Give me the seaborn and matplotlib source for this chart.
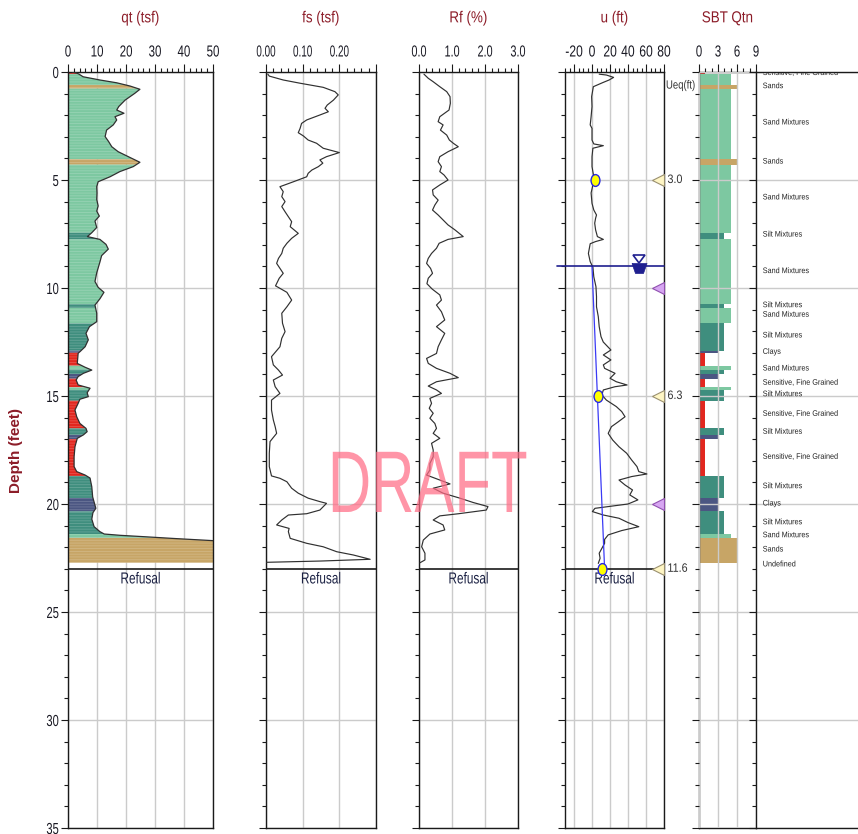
import numpy as np
import matplotlib
matplotlib.use("Agg")
import matplotlib.pyplot as plt
import seaborn as sns
from matplotlib.patheffects import AbstractPathEffect
from matplotlib.transforms import Affine2D, blended_transform_factory
from matplotlib.ticker import MultipleLocator, FixedLocator, FixedFormatter
from matplotlib.markers import MarkerStyle
from matplotlib.path import Path

# ---------------- CPT sounding data (depth in feet) ----------------
qt_depth = np.array([0.0, 0.05, 0.1, 0.22, 0.37, 0.5, 0.65, 0.8, 0.99, 1.3, 1.6, 1.76, 1.91, 2.07,
                     2.22, 2.45, 2.69, 2.99, 3.22, 3.46, 3.69, 3.92, 4.18, 4.38, 4.61, 4.85, 5.08,
                     5.31, 5.6, 5.9, 6.2, 6.44, 6.67, 6.9, 7.2, 7.44, 7.62, 7.75, 7.98, 8.2, 8.5,
                     8.8, 9.3, 9.7, 9.97, 10.2, 10.5, 10.79, 11.17, 11.56, 11.79, 12.1, 12.4, 12.72,
                     12.95, 13.02, 13.49, 13.67, 13.8, 13.95, 14.1, 14.26, 14.49, 14.64, 14.85,
                     15.03, 15.15, 15.34, 15.65, 15.96, 16.27, 16.5, 16.65, 16.8, 16.96, 17.35,
                     17.81, 18.27, 18.5, 18.66, 18.8, 19.2, 19.67, 20.2, 20.4, 20.7, 21.05, 21.28,
                     21.39, 21.45, 21.52, 21.6, 21.7, 21.85, 22.1, 22.4, 22.72])
qt_tsf = np.array([1.5, 3.0, 3.8, 5.2, 11.0, 16.8, 21.4, 24.8, 23.0, 19.7, 17.5, 16.8, 19.3, 16.2,
                   16.8, 15.6, 13.3, 12.8, 14.0, 15.1, 17.3, 20.8, 24.8, 22.5, 17.9, 14.5, 10.4,
                   9.9, 10.0, 9.9, 10.4, 9.9, 10.8, 9.3, 9.9, 8.2, 6.7, 11.0, 13.1, 13.9, 11.6,
                   11.0, 9.9, 9.3, 10.4, 12.4, 11.0, 9.3, 9.9, 9.9, 7.4, 6.2, 7.0, 5.9,
                   4.1, 3.5, 3.2, 5.9, 8.2, 5.3, 3.5, 2.8, 3.5, 7.6, 6.6,
                   7.0, 4.1, 3.5, 2.4, 3.0, 4.1, 6.2, 6.6, 5.3, 3.2, 2.4,
                   2.1, 2.1, 3.0, 5.9, 7.6, 8.2, 8.5, 9.6, 8.6, 8.2, 9.0, 11.0,
                   12.5, 18.0, 27.0, 37.0, 50.5, 62.0, 74.0, 80.0, 78.0])

fs_depth = np.array([0.1, 0.19, 0.37, 0.52, 0.71, 0.91, 1.06, 1.3, 1.53, 1.68, 1.84, 1.99, 2.22,
                     2.38, 2.61, 2.81, 2.96, 3.15, 3.3, 3.53, 3.73, 3.92, 4.07, 4.22, 4.38, 4.54,
                     4.69, 4.85, 5.08, 5.31, 5.54, 5.77, 6.0, 6.23, 6.47, 6.7, 6.93, 7.16, 7.47,
                     7.7, 7.93, 8.16, 8.4, 8.63, 8.86, 9.09, 9.32, 9.55, 9.9, 10.2, 10.56, 10.87,
                     11.17, 11.63, 12.02, 12.33, 12.72, 13.18, 13.56, 13.8, 14.03, 14.26, 14.57,
                     14.88, 15.19, 15.65, 16.11, 16.42, 16.73, 16.96, 17.11, 17.65, 18.27, 18.7,
                     18.81, 18.97, 19.27, 19.5, 19.73, 19.89, 19.97, 20.28, 20.45, 20.51, 20.74,
                     20.97, 21.13, 21.28, 21.59, 21.82, 21.98, 22.21, 22.36, 22.56, 22.64, 22.7])
fs_tsf = np.array([0.005, 0.009, 0.047, 0.093, 0.156, 0.188, 0.197, 0.184, 0.167, 0.161, 0.17,
                   0.147, 0.111, 0.097, 0.093, 0.088, 0.102, 0.115, 0.138, 0.156, 0.2, 0.165,
                   0.147, 0.155, 0.143, 0.125, 0.115, 0.111, 0.075, 0.038, 0.047, 0.043, 0.052,
                   0.043, 0.052, 0.061, 0.07, 0.066, 0.088, 0.07, 0.057, 0.047, 0.043, 0.034,
                   0.029, 0.038, 0.047, 0.036, 0.026, 0.057, 0.07, 0.057, 0.043, 0.045, 0.052,
                   0.043, 0.038, 0.015, 0.02, 0.034, 0.045, 0.02, 0.025, 0.038, 0.015, 0.015,
                   0.02, 0.025, 0.029, 0.018, 0.011, 0.009, 0.009, 0.015, 0.038, 0.057, 0.07,
                   0.088, 0.115, 0.147, 0.165, 0.147, 0.111, 0.061, 0.043, 0.029, 0.063, 0.061,
                   0.066, 0.111, 0.156, 0.193, 0.238, 0.284, 0.15, 0.0])

rf_depth = np.array([0.1, 0.29, 0.45, 0.68, 0.91, 1.14, 1.45, 1.76, 2.07, 2.3, 2.45, 2.69, 2.92,
                     3.15, 3.3, 3.46, 3.69, 3.92, 4.15, 4.38, 4.61, 4.77, 5.0, 5.23, 5.46, 5.69,
                     5.93, 6.16, 6.39, 6.62, 6.85, 7.08, 7.31, 7.62, 7.75, 7.93, 8.16, 8.4, 8.63,
                     8.86, 9.09, 9.32, 9.55, 9.8, 10.05, 10.32, 10.56, 10.79, 11.1, 11.48, 11.79,
                     12.1, 12.4, 12.72, 13.03, 13.26, 13.49, 13.72, 13.95, 14.15, 14.34, 14.54,
                     14.72, 14.88, 15.11, 15.34, 15.57, 15.8, 16.03, 16.27, 16.5, 16.73, 16.96,
                     17.19, 17.5, 17.81, 18.12, 18.43, 18.66, 18.89, 19.07, 19.27, 19.5, 19.73,
                     19.93, 20.12, 20.28, 20.45, 20.55, 20.74, 20.97, 21.2, 21.39, 21.67, 21.98,
                     22.28, 22.59, 22.72])
rf_pct = np.array([0.15, 0.28, 0.43, 0.63, 0.84, 0.94, 0.95, 0.91, 0.63, 0.58, 0.73, 0.65, 0.84,
                   0.92, 1.04, 1.19, 0.88, 0.63, 0.58, 0.68, 0.63, 0.76, 0.88, 0.63, 0.41, 0.43,
                   0.58, 0.48, 0.41, 0.58, 0.73, 0.88, 1.09, 1.34, 0.88, 0.61, 0.53, 0.38, 0.28,
                   0.23, 0.35, 0.41, 0.28, 0.24, 0.4, 0.63, 0.68, 0.53, 0.68, 0.78, 0.53,
                   0.78, 0.68, 0.58, 0.53, 0.23, 0.28, 0.53, 0.94, 1.19, 0.53, 0.28,
                   0.53, 0.68, 0.33, 0.38, 0.31, 0.43, 0.33, 0.48, 0.53, 0.43, 0.63,
                   0.38, 0.43, 0.43, 0.33, 0.33, 0.23, 0.63, 0.94, 0.43, 0.73, 1.24,
                   1.64, 2.09, 2.04, 1.2, 0.63, 0.43, 0.73, 0.78, 0.33, 0.13, 0.08,
                   0.18, 0.18, 0.03])

u_depth = np.array([0.1, 0.14, 0.25, 0.37, 0.49, 0.68, 1.14, 1.6, 2.07, 2.45, 2.61, 3.15, 3.33,
                    3.41, 3.53, 3.92, 4.38, 4.85, 5.08, 5.23, 5.6, 6.08, 6.39, 6.62, 6.77, 7.0,
                    7.31, 7.62, 7.75, 7.85, 7.95, 8.4, 8.78, 9.04, 9.48, 9.94, 10.4, 10.87, 11.33,
                    11.79, 12.25, 12.5, 12.87, 13.1, 13.33, 13.56, 13.72, 13.95, 14.18, 14.34,
                    14.49, 14.57, 14.72, 14.95, 15.19, 15.49, 15.72, 15.96, 16.2, 16.42, 16.73,
                    17.04, 17.35, 17.65, 17.96, 18.27, 18.5, 18.61, 18.73, 18.89, 19.12, 19.35,
                    19.58, 19.81, 20.0, 20.2, 20.35, 20.51, 20.66, 20.86, 21.05, 21.23, 21.43,
                    21.64, 21.82, 22.05, 22.28, 22.51, 22.75])
u_ft = np.array([8, 16, 24, 19, 12, 1.5, -0.4, 0, -1, -2, 0, 0, 2,
                 12.6, 1, 0, 0, 2, 7, 1, -1, 0, 2, 5, 4, 3,
                 4, 6, 12.6, 4, -2, -4, -2, 1, 2, 4.4, 5, 5, 7,
                 8, 10, 12.5, 21, 12.6, 21, 12.6, 14, 25.6, 20, 27,
                 39, 25.6, 12.6, 10.9, 16, 27, 33, 36.7, 29, 21.6, 18,
                 23, 30, 38.5, 44, 50, 52, 61, 44, 30, 36.7, 45,
                 42, 51, 40, 3.3, 0.4, 12.6, 30, 40, 52, 33, 18,
                 14, 14, 11, 8, 9, 7])

# Soil behaviour type layers (Robertson zone numbers)
sbt_top = [0.0, 0.1, 0.6, 0.77, 4.04, 4.29, 7.44, 7.75, 10.75, 10.92, 11.64, 12.9, 13.0, 13.6,
           13.78, 13.98, 14.2, 14.6, 14.72, 15.22, 16.5, 16.8, 17.0, 18.7, 19.72, 20.34, 21.39, 21.57]
sbt_bottom = sbt_top[1:] + [22.72]
sbt_zone = [1, 5, 6, 5, 6, 5, 4, 5, 4, 5, 4, 3, 1, 5, 4, 3, 1, 5, 4, 1, 4, 3, 1, 4, 3, 4, 5, 6]

sbt_label_depth = [0.07, 0.68, 2.36, 4.17, 5.83, 7.55, 9.24, 10.82, 11.26, 12.22, 12.98, 13.75,
                   14.41, 14.94, 15.85, 16.68, 17.84, 19.2, 20.0, 20.87, 21.47, 22.13, 22.82]
sbt_label_name = ["Sensitive, Fine Grained", "Sands", "Sand Mixtures", "Sands", "Sand Mixtures",
                  "Silt Mixtures", "Sand Mixtures", "Silt Mixtures", "Sand Mixtures",
                  "Silt Mixtures", "Clays", "Sand Mixtures", "Sensitive, Fine Grained",
                  "Silt Mixtures", "Sensitive, Fine Grained", "Silt Mixtures",
                  "Sensitive, Fine Grained", "Silt Mixtures", "Clays", "Silt Mixtures",
                  "Sand Mixtures", "Sands", "Undefined"]

# Pore pressure dissipation tests and groundwater
diss_depth = [5.0, 15.0, 23.0]
ueq_ft = [3.0, 6.3, 11.6]
other_test_depth = [10.0, 20.0]
water_depth = 9.0
water_symbol_u = 52.5
refusal_depth = 23.0

ZONE_COLORS = {1: "#E2271F", 3: "#4B5682", 4: "#3F8E7E", 5: "#7DC8A1", 6: "#C7A566"}

# ---------------- styling helpers ----------------
sns.set_theme(style="white")
plt.rcParams["font.family"] = ["Liberation Sans", "DejaVu Sans"]
plt.rcParams["hatch.linewidth"] = 0.6

TITLE_RED = "#8C1C28"
TICK_TXT = "#1A1A24"
GRID = "#CBCBCB"
LINE = "#303030"


class Condense(AbstractPathEffect):
    """Draw glyphs narrower along the text direction (condensed lettering)."""

    def __init__(self, sx, anchor="center"):
        super().__init__()
        self.sx = sx
        self.anchor = anchor

    def draw_path(self, renderer, gc, tpath, affine, rgbFace=None):
        ext = tpath.get_extents()
        if self.anchor == "left":
            cx = 0.0
        elif self.anchor == "right":
            cx = ext.x1
        else:
            cx = 0.5 * (ext.x0 + ext.x1)
        squeeze = Affine2D().translate(-cx, 0).scale(self.sx, 1.0).translate(cx, 0)
        renderer.draw_path(gc, tpath, squeeze + affine, rgbFace)


W, H = 858, 834
TOP, BOTTOM = 72, 828
fig = plt.figure(figsize=(W / 100, H / 100), dpi=100)


def add_panel(x0, x1):
    return fig.add_axes([x0 / W, 1 - BOTTOM / H, (x1 - x0) / W, (BOTTOM - TOP) / H])


ax_qt = add_panel(68, 213)
ax_fs = add_panel(266, 376)
ax_rf = add_panel(419, 518)
ax_u = add_panel(565, 664)
ax_sbt = add_panel(699, 756)
ax_lab = add_panel(756, 858)


def style_depth_axis(ax):
    ax.set_ylim(35, 0)
    ax.yaxis.set_major_locator(MultipleLocator(5))
    ax.yaxis.set_minor_locator(MultipleLocator(1))
    ax.tick_params(axis="y", which="both", left=True, right=False, direction="out",
                   color="k", width=0.8, labelleft=False)
    ax.tick_params(axis="y", which="major", length=5)
    ax.tick_params(axis="y", which="minor", length=3)
    for s in ax.spines.values():
        s.set_color("k")
        s.set_linewidth(1.0)
        s.set_visible(True)
    ax.set_xlabel("")
    ax.set_ylabel("")


def style_panel(ax, xlim, major, labels, minor, title, squeeze):
    style_depth_axis(ax)
    ax.set_xlim(*xlim)
    ax.xaxis.tick_top()
    ax.xaxis.set_major_locator(FixedLocator(major))
    ax.xaxis.set_major_formatter(FixedFormatter(labels))
    ax.xaxis.set_minor_locator(MultipleLocator(minor))
    ax.tick_params(axis="x", which="both", top=True, bottom=False, direction="out",
                   color="k", width=0.8, labelsize=11.5, labelcolor=TICK_TXT)
    ax.tick_params(axis="x", which="major", length=5.5, pad=3.5)
    ax.tick_params(axis="x", which="minor", length=3)
    ax.grid(True, which="major", color=GRID, lw=1.0)
    for lbl in ax.get_xticklabels():
        lbl.set_path_effects([Condense(squeeze)])
    ax.annotate(title, xy=(0.5, 1), xycoords="axes fraction", xytext=(0, 39),
                textcoords="offset points", ha="center", va="center", fontsize=11.5,
                color=TITLE_RED, path_effects=[Condense(0.84)])


def add_refusal(ax):
    ax.axhline(refusal_depth, color="k", lw=1.2, zorder=4)
    tr = blended_transform_factory(ax.transAxes, ax.transData)
    ax.text(0.5, refusal_depth + 0.47, "Refusal", transform=tr, ha="center", va="center",
            fontsize=11.5, color="#1C2244", path_effects=[Condense(0.74)])


# ---------------- qt with SBT-coloured fill ----------------
for top, bot, zone in zip(sbt_top, sbt_bottom, sbt_zone):
    inside = (qt_depth > top) & (qt_depth < bot)
    d = np.concatenate([[top], qt_depth[inside], [bot]])
    q = np.concatenate([[np.interp(top, qt_depth, qt_tsf)], qt_tsf[inside],
                        [np.interp(bot, qt_depth, qt_tsf)]])
    ax_qt.fill_betweenx(d, 0, q, facecolor=ZONE_COLORS[zone], edgecolor=(1, 1, 1, 0.2),
                        linewidth=0, hatch="------", zorder=2)
sns.lineplot(x=qt_tsf, y=qt_depth, orient="y", sort=False, estimator=None, ax=ax_qt,
             color=LINE, linewidth=0.9, zorder=3)
style_panel(ax_qt, (0, 50), [0, 10, 20, 30, 40, 50], ["0", "10", "20", "30", "40", "50"], 2,
            "qt (tsf)", 0.72)
ax_qt.tick_params(axis="y", which="major", labelleft=True, labelsize=11.5,
                  labelcolor=TICK_TXT, pad=1.5)
ax_qt.set_yticks([0, 5, 10, 15, 20, 25, 30, 35])
for lbl in ax_qt.get_yticklabels():
    lbl.set_path_effects([Condense(0.7, "right")])
    lbl.set_verticalalignment("center_baseline")
ax_qt.set_ylabel("Depth (feet)", fontsize=11, fontweight="bold", color=TITLE_RED)
ax_qt.yaxis.set_label_coords(-0.31, 0.5)
add_refusal(ax_qt)

# ---------------- sleeve friction ----------------
sns.lineplot(x=fs_tsf, y=fs_depth, orient="y", sort=False, estimator=None, ax=ax_fs,
             color=LINE, linewidth=0.85, zorder=3)
style_panel(ax_fs, (0, 0.3), [0, 0.1, 0.2, 0.3], ["0.00", "0.10", "0.20", ""], 0.02,
            "fs (tsf)", 0.62)
add_refusal(ax_fs)

# ---------------- friction ratio ----------------
sns.lineplot(x=rf_pct, y=rf_depth, orient="y", sort=False, estimator=None, ax=ax_rf,
             color=LINE, linewidth=0.85, zorder=3)
style_panel(ax_rf, (0, 3), [0, 1, 2, 3], ["0.0", "1.0", "2.0", "3.0"], 0.2, "Rf (%)", 0.68)
add_refusal(ax_rf)

# ---------------- pore pressure ----------------
sns.lineplot(x=u_ft, y=u_depth, orient="y", sort=False, estimator=None, ax=ax_u,
             color=LINE, linewidth=0.85, zorder=3)
style_panel(ax_u, (-30, 80), [-20, 0, 20, 40, 60, 80], ["-20", "0", "20", "40", "60", "80"], 5,
            "u (ft)", 0.76)
add_refusal(ax_u)

NAVY = "#1F1F8F"
hydro_depth = np.array([water_depth, refusal_depth])
ax_u.plot(hydro_depth - water_depth, hydro_depth, color="#3B3BF5", lw=0.9, zorder=3)
u_tr = blended_transform_factory(ax_u.transAxes, ax_u.transData)
ax_u.plot([-0.085, 1.0], [water_depth, water_depth], transform=u_tr, clip_on=False,
          color=NAVY, lw=1.2, zorder=4)
ax_u.plot([water_symbol_u], [water_depth - 0.32], ls="none",
          marker=MarkerStyle("v", transform=Affine2D().scale(1.0, 0.7)), ms=8,
          mfc="white", mec=NAVY, mew=1.2, zorder=6)
wt_verts = [(-0.75, 0.5), (0.75, 0.5), (0.4, -0.5), (-0.4, -0.5), (-0.75, 0.5)]
ax_u.plot([water_symbol_u], [water_depth + 0.09], ls="none", marker=Path(wt_verts), ms=10.8,
          mfc=NAVY, mec=NAVY, mew=0.5, zorder=6)
ax_u.plot(ueq_ft, diss_depth, ls="none",
          marker=MarkerStyle("o", transform=Affine2D().scale(0.75, 1.0)), ms=8.5,
          mfc="#FFFF00", mec="#2A2AE0", mew=1.0, zorder=7, clip_on=False)
ax_u.plot(np.full(len(diss_depth), 0.94), diss_depth, ls="none", marker="<", ms=8.5,
          mfc="#FFF6C4", mec="#9A9070", mew=0.8, transform=u_tr, clip_on=False, zorder=6)
ax_u.plot(np.full(len(other_test_depth), 0.94), other_test_depth, ls="none", marker="<",
          ms=8.5, mfc="#D7A6F2", mec="#9050B0", mew=0.8, transform=u_tr, clip_on=False,
          zorder=6)
for d, v in zip(diss_depth, ueq_ft):
    ax_u.text(1.035, d, f"{v:.1f}", transform=u_tr, ha="left", va="center", fontsize=8.8,
              color="#333333", clip_on=False, path_effects=[Condense(0.88, "left")])
ax_u.text(1.02, 0.63, "Ueq(ft)", transform=u_tr, ha="left", va="center", fontsize=8.6,
          color="#333333", clip_on=False, path_effects=[Condense(0.8, "left")])

# ---------------- SBT column ----------------
sbt_mid = [(a + b) / 2 for a, b in zip(sbt_top, sbt_bottom)]
sbt_thk = [b - a for a, b in zip(sbt_top, sbt_bottom)]
ax_sbt.barh(sbt_mid, sbt_zone, height=sbt_thk, color=[ZONE_COLORS[z] for z in sbt_zone],
            linewidth=0, zorder=1)
style_panel(ax_sbt, (0, 9), [0, 3, 6, 9], ["0", "3", "6", "9"], 1, "SBT Qtn", 0.72)
ax_sbt.set_axisbelow(False)
ax_sbt.spines["right"].set_visible(False)

# ---------------- SBT description column ----------------
style_depth_axis(ax_lab)
ax_lab.set_xlim(0, 1)
ax_lab.set_xticks([])
ax_lab.spines["right"].set_visible(False)
ax_lab.grid(True, axis="y", which="major", color=GRID, lw=1.0)
lab_tr = blended_transform_factory(ax_lab.transAxes, ax_lab.transData)
for d, name in zip(sbt_label_depth, sbt_label_name):
    ax_lab.text(0.066, d, name, transform=lab_tr, ha="left", va="center", fontsize=5.8,
                color="#222222", clip_on=True, path_effects=[Condense(0.9, "left")])

# ---------------- watermark ----------------
fig.text(427 / W, 1 - 512 / H, "DRAFT", ha="center", va="baseline", fontsize=63,
         color="#FF6D86", alpha=0.72, zorder=10, path_effects=[Condense(0.685)])

fig.savefig("out.png", dpi=100)
